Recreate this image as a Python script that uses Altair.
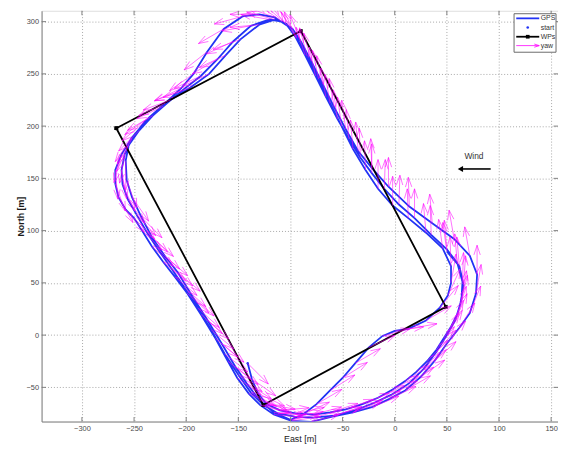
import altair as alt
import numpy as np
import pandas as pd

# ---------------- data ----------------
# GPS track, three laps (east, north in metres) and yaw heading (deg, math angle)
lap1_east = [-141, -137, -131, -123, -110, -95, -78, -62, -47, -31,
             -16, -2, 10, 21, 31, 40, 47, 54, 60, 64,
             65, 60, 50, 35, 19, 4, -10, -22, -33, -44,
             -55, -66, -76, -86, -95, -104, -115, -130, -148, -162,
             -178, -196, -215, -232, -245, -255, -258, -257, -252, -243,
             -233, -220, -208, -194, -180, -166, -153, -142, -130, -116, -100]
lap1_north = [-27, -42, -56, -66, -72, -75, -76, -74, -71, -66,
              -60, -52, -44, -35, -25, -14, -3, 8, 20, 34,
              51, 69, 82, 96, 112, 125, 140, 155, 170, 188,
              207, 228, 248, 268, 285, 298, 302, 297, 283, 268,
              250, 237, 225, 210, 196, 182, 167, 148, 132, 113,
              94, 75, 60, 37, 15, -8, -30, -46, -62, -74, -81]
lap1_yaw = [-45, -35, -25, -10, 5, 12, 15, 18, 20, 22,
            25, 28, 32, 38, 45, 52, 58, 65, 72, 80,
            88, 95, 95, 92, 90, 88, 88, 90, 92, 95,
            98, 100, 102, 108, 120, 140, 165, 185, 200, 205,
            205, 200, 200, 210, 225, 245, 270, 290, 305, 315,
            318, 320, 320, 318, 318, 320, 322, 328, 340, 355, 10]

lap2_east = [-88, -75, -62, -50, -38, -25, -12, 0, 13, 30,
             43, 51, 54, 54, 46, 30, 13, -2, -16, -28,
             -40, -51, -62, -73, -84, -94, -103, -115, -130, -146,
             -164, -180, -193, -205, -220, -236, -252, -262, -268, -268,
             -265, -258, -250, -243, -233, -222, -211, -199, -186, -172,
             -160, -151, -140, -129, -116, -99, -80, -60, -40, -22,
             -5, 10, 25, 38, 50, 62, 72, 78, 79, 72,
             57, 36, 14, -6, -22, -35, -47, -58, -69, -80,
             -90, -98, -108]
lap2_north = [-76, -66, -53, -41, -27, -12, -1, 4, 6, 14,
              26, 38, 50, 66, 83, 98, 112, 124, 140, 158,
              178, 200, 222, 245, 267, 284, 296, 304, 307, 305,
              293, 271, 250, 236, 222, 208, 189, 173, 158, 145,
              132, 120, 112, 101, 85, 70, 56, 40, 20, -3,
              -25, -41, -56, -67, -76, -82, -83, -78, -74, -69,
              -61, -53, -40, -25, -8, 7, 21, 40, 58, 76,
              92, 107, 123, 142, 160, 176, 197, 218, 240, 262,
              281, 293, 300]
lap2_yaw = [25, 30, 32, 32, 30, 25, 15, 8, 10, 30,
            50, 65, 80, 92, 98, 95, 92, 90, 90, 92,
            95, 98, 100, 102, 105, 115, 130, 160, 180, 195,
            210, 218, 215, 205, 205, 215, 235, 255, 275, 290,
            300, 310, 315, 315, 318, 320, 320, 318, 318, 320,
            322, 325, 335, 345, 355, 8, 15, 18, 20, 22,
            25, 30, 35, 42, 50, 58, 68, 80, 90, 100,
            100, 95, 92, 90, 92, 95, 98, 100, 102, 105,
            112, 125, 145]

lap3_east = [-120, -138, -155, -170, -186, -204, -222, -240, -252, -259,
             -262, -261, -256, -248, -238, -227, -215, -202, -189, -176,
             -163, -150, -138, -126, -112, -96, -78, -58, -38, -20,
             -3, 14, 28, 40, 50, 58, 63, 66, 62, 50]
lap3_north = [302, 296, 281, 264, 248, 234, 219, 204, 188, 173,
              158, 144, 130, 116, 99, 82, 65, 46, 26, 5,
              -18, -38, -55, -67, -75, -78, -79, -77, -72, -65,
              -57, -46, -32, -16, 0, 14, 30, 48, 66, 80]
lap3_yaw = [170, 190, 205, 210, 205, 200, 205, 220, 240, 260,
            280, 295, 305, 312, 316, 318, 320, 318, 318, 320,
            322, 325, 332, 345, 358, 10, 15, 18, 20, 24,
            28, 33, 40, 48, 58, 66, 76, 86, 95, 98]

# waypoints (closed rectangle)
wp_east = [-267, -90, 49, -126, -267]
wp_north = [198, 291, 27, -67, 198]

# wind annotation
wind_label = ["Wind"]
wind_text_pos = [76, 171]
wind_arrow_east = [92, 63]
wind_arrow_north = [159, 159]

legend_labels = ["GPS", "start", "WPs", "yaw"]

x_ticks = list(range(-300, 151, 50))
y_ticks = list(range(-50, 301, 50))
x_title = "East [m]"
y_title = "North [m]"

# ---------------- layout / style ----------------
W, H = 523, 416
X_DOMAIN = [-338.7, 156.6]
Y_DOMAIN = [-82.7, 310.4]
BLUE = "#2233f5"
MAGENTA = "#ff00ff"
AXIS_GRAY = "#808080"
FONT = "Liberation Sans"

east = lap1_east + lap2_east + lap3_east
north = lap1_north + lap2_north + lap3_north
yaw = lap1_yaw + lap2_yaw + lap3_yaw

track = pd.DataFrame({"east": east, "north": north, "i": np.arange(len(east))})

# quiver arrows (MATLAB style heads)
arrow_len, ha, hb = 28.0, 0.33, 0.33
e = np.array(east, float)
n = np.array(north, float)
th = np.radians(np.array(yaw, float))
u = arrow_len * np.cos(th)
v = arrow_len * np.sin(th)
tx, ty = e + u, n + v
h1x, h1y = tx - ha * (u + hb * v), ty - ha * (v - hb * u)
h2x, h2y = tx - ha * (u - hb * v), ty - ha * (v + hb * u)
segs = pd.DataFrame({
    "x": np.concatenate([e, tx, tx]),
    "y": np.concatenate([n, ty, ty]),
    "x2": np.concatenate([tx, h1x, h2x]),
    "y2": np.concatenate([ty, h1y, h2y]),
})

wp_df = pd.DataFrame({"east": wp_east, "north": wp_north, "i": np.arange(len(wp_east))})

xs = alt.Scale(domain=X_DOMAIN, nice=False, zero=False)
ys = alt.Scale(domain=Y_DOMAIN, nice=False, zero=False)

x_axis = alt.Axis(values=x_ticks, title=x_title, grid=True, gridColor="#a8a8a8",
                  gridDash=[1, 2], gridWidth=1, domainColor=AXIS_GRAY, domainWidth=1,
                  ticks=False, labelFont=FONT, labelFontSize=7.5, labelColor="#4a4a4a",
                  labelPadding=3, labelFlush=False, labelOverlap=False,
                  titleFont=FONT, titleFontSize=9, titleFontWeight="normal",
                  titleColor="#1a1a1a", titleX=W / 2, titleY=17.5,
                  titleBaseline="middle", titleAlign="center")
y_axis = alt.Axis(values=y_ticks, title=y_title, grid=True, gridColor="#a8a8a8",
                  gridDash=[1, 2], gridWidth=1, domainColor=AXIS_GRAY, domainWidth=1,
                  ticks=False, labelFont=FONT, labelFontSize=7.5, labelColor="#4a4a4a",
                  labelPadding=3, labelFlush=False, labelOverlap=False,
                  titleFont=FONT, titleFontSize=9, titleFontWeight="bold",
                  titleColor="#1a1a1a", titleX=-21.5, titleY=H / 2, titleAngle=-90,
                  titleBaseline="middle", titleAlign="center")


# every layer carries the identical axis spec, so the shared axes merge cleanly
def XQ(f):
    return alt.X(f, type="quantitative", scale=xs, axis=x_axis)


def YQ(f):
    return alt.Y(f, type="quantitative", scale=ys, axis=y_axis)


gps = alt.Chart(track).mark_line(color=BLUE, strokeWidth=1.8, clip=True).encode(
    x=XQ("east"), y=YQ("north"), order="i:Q")

start = alt.Chart(track.iloc[[0]]).mark_circle(color=BLUE, size=6, opacity=1).encode(
    x=XQ("east"), y=YQ("north"))

wps_line = alt.Chart(wp_df).mark_line(color="black", strokeWidth=1.8).encode(
    x=XQ("east"), y=YQ("north"), order="i:Q")
wps_pts = alt.Chart(wp_df).mark_square(color="black", size=14, opacity=1).encode(
    x=XQ("east"), y=YQ("north"))

quiver = alt.Chart(segs).mark_rule(color=MAGENTA, strokeWidth=0.7, opacity=0.8, clip=True).encode(
    x=XQ("x"), y=YQ("y"), x2="x2:Q", y2="y2:Q")

wind_txt = alt.Chart(pd.DataFrame({"t": wind_label, "e": [wind_text_pos[0]], "n": [wind_text_pos[1]]})).mark_text(
    font=FONT, fontSize=8.5, color="#333333", baseline="middle", align="center").encode(
    x=XQ("e"), y=YQ("n"), text="t:N")
wind_df = pd.DataFrame({"e": [wind_arrow_east[0]], "e2": [wind_arrow_east[1]], "n": [wind_arrow_north[0]]})
wind_shaft = alt.Chart(wind_df).mark_rule(color="black", strokeWidth=1.6).encode(
    x=XQ("e"), x2="e2:Q", y=YQ("n"))
wind_head = alt.Chart(wind_df).mark_point(shape="triangle-left", filled=True, size=38,
                                          color="black", opacity=1).encode(
    x=XQ("e2"), y=YQ("n"))

# inward ticks on all four sides
tx_df = pd.DataFrame({"v": x_ticks})
ty_df = pd.DataFrame({"v": y_ticks})
TL = 4.5
ticks_bottom = alt.Chart(tx_df).mark_rule(color=AXIS_GRAY, strokeWidth=1).encode(
    x=XQ("v"), y=alt.value(H), y2=alt.value(H - TL))
ticks_top = alt.Chart(tx_df).mark_rule(color=AXIS_GRAY, strokeWidth=1).encode(
    x=XQ("v"), y=alt.value(0), y2=alt.value(TL))
ticks_left = alt.Chart(ty_df).mark_rule(color=AXIS_GRAY, strokeWidth=1).encode(
    y=YQ("v"), x=alt.value(0), x2=alt.value(TL))
ticks_right = alt.Chart(ty_df).mark_rule(color=AXIS_GRAY, strokeWidth=1).encode(
    y=YQ("v"), x=alt.value(W), x2=alt.value(W - TL))

# legend (box in the upper right corner)
LX0, LX1, LY0, LY1 = 478.5, 521.0, 3.0, 42.0
SX0, SX1, TXT = 480.7, 504.0, 505.5
rows = [7.7, 17.0, 26.3, 35.3]
one = pd.DataFrame({"k": [0]})
leg = [alt.Chart(one).mark_rect(fill="white", stroke="#6a6a6a", strokeWidth=1).encode(
    x=alt.value(LX0), x2=alt.value(LX1), y=alt.value(LY0), y2=alt.value(LY1))]
leg.append(alt.Chart(one).mark_rule(color=BLUE, strokeWidth=1.8).encode(
    x=alt.value(SX0), x2=alt.value(SX1), y=alt.value(rows[0])))
leg.append(alt.Chart(one).mark_circle(color=BLUE, size=7, opacity=1).encode(
    x=alt.value((SX0 + SX1) / 2), y=alt.value(rows[1])))
leg.append(alt.Chart(one).mark_rule(color="black", strokeWidth=1.8).encode(
    x=alt.value(SX0), x2=alt.value(SX1), y=alt.value(rows[2])))
leg.append(alt.Chart(one).mark_square(color="black", size=14, opacity=1).encode(
    x=alt.value((SX0 + SX1) / 2), y=alt.value(rows[2])))
leg.append(alt.Chart(one).mark_rule(color=MAGENTA, strokeWidth=0.8).encode(
    x=alt.value(SX0), x2=alt.value(SX1), y=alt.value(rows[3])))
leg.append(alt.Chart(one).mark_rule(color=MAGENTA, strokeWidth=0.8).encode(
    x=alt.value(SX1), x2=alt.value(SX1 - 5), y=alt.value(rows[3]), y2=alt.value(rows[3] - 1.6)))
leg.append(alt.Chart(one).mark_rule(color=MAGENTA, strokeWidth=0.8).encode(
    x=alt.value(SX1), x2=alt.value(SX1 - 5), y=alt.value(rows[3]), y2=alt.value(rows[3] + 1.6)))
for lab, ry in zip(legend_labels, rows):
    leg.append(alt.Chart(pd.DataFrame({"t": [lab]})).mark_text(
        font=FONT, fontSize=7, color="#333333", align="left", baseline="middle").encode(
        x=alt.value(TXT), y=alt.value(ry), text="t:N"))

chart = alt.layer(
    gps, start, wps_line, wps_pts, quiver, wind_shaft, wind_head, wind_txt,
    ticks_bottom, ticks_top, ticks_left, ticks_right, *leg
).properties(
    width=W, height=H,
    padding={"left": 34, "top": 0, "right": 0, "bottom": 23},
    autosize=alt.AutoSizeParams(type="none"),
    background="white",
).configure_view(stroke=AXIS_GRAY, strokeWidth=1).configure(font=FONT)

chart.save("out.html", embed_options={"renderer": "svg", "actions": False})
